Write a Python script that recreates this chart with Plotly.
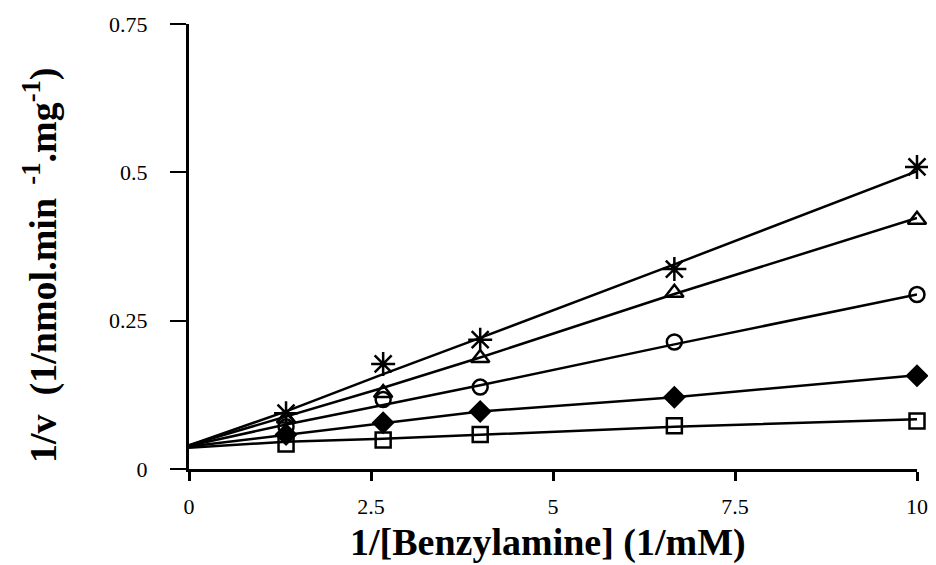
import plotly.graph_objects as go

# ---- data ----
x_points = [1.333, 2.667, 4.0, 6.667, 10.0]
x_line = [0.0, 1.333, 2.667, 4.0, 6.667, 10.0]

star_pts = [0.094, 0.177, 0.218, 0.337, 0.509]
tri_pts = [0.085, 0.128, 0.187, 0.297, 0.420]
circ_pts = [0.071, 0.117, 0.138, 0.214, 0.294]
diam_pts = [0.058, 0.078, 0.097, 0.121, 0.157]
sq_pts = [0.042, 0.049, 0.058, 0.073, 0.081]

star_line = [0.040, 0.097, 0.160, 0.221, 0.345, 0.502]
tri_line = [0.040, 0.088, 0.137, 0.188, 0.295, 0.423]
circ_line = [0.039, 0.075, 0.108, 0.141, 0.210, 0.294]
diam_line = [0.038, 0.058, 0.078, 0.097, 0.121, 0.158]
sq_line = [0.036, 0.046, 0.051, 0.058, 0.071, 0.084]

x_ticks = [0, 2.5, 5, 7.5, 10]
x_ticktext = ["0", "2.5", "5", "7.5", "10"]
y_ticks = [0, 0.25, 0.5, 0.75]
y_ticktext = ["0", "0.25", "0.5", "0.75"]

x_title = "1/[Benzylamine] (1/mM)"
y_title = "1/v  (1/nmol.min<sup>  -1</sup>.mg<sup>-1</sup>)"

series = [
    ("asterisk-open", star_pts, star_line, 20),
    ("triangle-up-open", tri_pts, tri_line, 16),
    ("circle-open", circ_pts, circ_line, 15),
    ("diamond", diam_pts, diam_line, 15),
    ("square-open", sq_pts, sq_line, 15),
]

fig = go.Figure()
for sym, pts, ln, sz in series:
    fig.add_trace(go.Scatter(
        x=x_line, y=ln, mode="lines",
        line=dict(color="black", width=2.5),
        showlegend=False, hoverinfo="skip", cliponaxis=False,
    ))
for sym, pts, ln, sz in series:
    fig.add_trace(go.Scatter(
        x=x_points, y=pts, mode="markers",
        marker=dict(symbol=sym, size=sz, color="black",
                    line=dict(color="black", width=2.5)),
        showlegend=False, cliponaxis=False,
    ))

serif = "Liberation Serif, Times New Roman, serif"
tick_font = dict(family=serif, size=22, color="black")
title_font = dict(family=serif, size=38, color="black", weight="bold")

# the page body adds an 8 px offset, so the figure is drawn 8 px smaller
fig.update_layout(
    width=928, height=557,
    autosize=False,
    margin=dict(l=181, r=19, t=16, b=96, autoexpand=False),
    paper_bgcolor="white", plot_bgcolor="white",
    font=dict(family=serif, color="black"),
    xaxis=dict(
        range=[0, 10], tickvals=x_ticks, ticktext=x_ticktext,
        showline=True, linecolor="black", linewidth=3,
        ticks="outside", ticklen=9, tickwidth=3, tickcolor="black",
        showgrid=False, zeroline=False, tickfont=tick_font,
        ticklabelstandoff=7, automargin=False,
    ),
    yaxis=dict(
        range=[0, 0.75], tickvals=y_ticks, ticktext=y_ticktext,
        showline=True, linecolor="black", linewidth=3,
        ticks="outside", ticklen=16, tickwidth=2, tickcolor="black",
        showgrid=False, zeroline=False, tickfont=tick_font,
        ticklabelstandoff=18, automargin=False,
    ),
    annotations=[
        dict(text=x_title, xref="paper", yref="paper",
             x=0.493, y=-0.166, xanchor="center", yanchor="middle",
             showarrow=False, font=title_font),
        dict(text=y_title, xref="paper", yref="paper",
             x=-0.205, y=0.458, xanchor="center", yanchor="middle",
             textangle=-90, showarrow=False, font=title_font),
    ],
)

fig.write_html("out.html")
